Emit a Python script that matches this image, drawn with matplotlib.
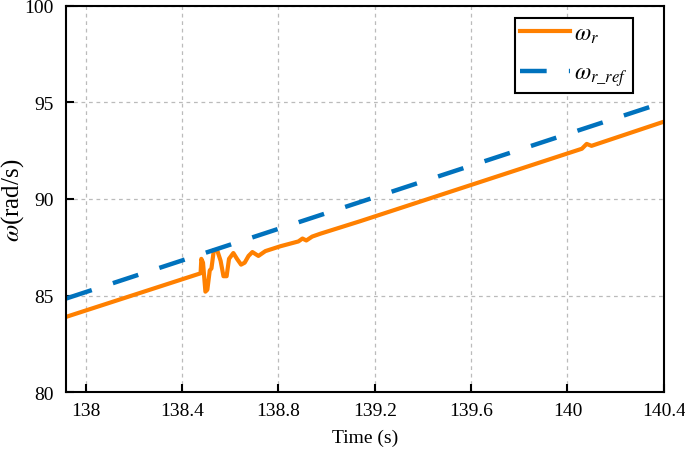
import numpy as np
import matplotlib
matplotlib.use("Agg")
import matplotlib.pyplot as plt

# измеренная скорость (по картинке)
t_meas = [137.92, 138.477, 138.480, 138.487, 138.497, 138.505, 138.515, 138.522,
          138.532, 138.547, 138.56, 138.572, 138.585, 138.595, 138.613, 138.628,
          138.645, 138.66, 138.676, 138.692, 138.717, 138.746, 138.808, 138.883,
          138.90, 138.916, 138.94, 138.974, 139.14, 140.06, 140.08, 140.10, 140.4]
w_meas = [83.9, 86.15, 86.9, 86.7, 85.2, 85.3, 86.3, 86.4,
          87.35, 87.3, 86.8, 86.0, 86.0, 86.9, 87.2, 86.9,
          86.6, 86.7, 87.05, 87.25, 87.05, 87.3, 87.55, 87.8,
          87.95, 87.85, 88.05, 88.2, 88.85, 92.6, 92.85, 92.75, 94.0]

# задание
t_ref = [137.92, 140.4]
w_ref = [84.85, 95.0]

plt.rcParams["font.family"] = ["Liberation Serif", "DejaVu Serif"]
plt.rcParams["mathtext.fontset"] = "stix"

fig, ax = plt.subplots(figsize=(6.85, 4.56), dpi=100)
fig.subplots_adjust(left=0.097, right=0.969, top=0.985, bottom=0.138)

ax.plot(t_meas, w_meas, color="#FF8000", lw=3, label=r"$\omega_r$")
ax.plot(t_ref, w_ref, color="#0072BD", lw=3.2, ls=(0, (6, 5)),
        label=r"$\omega_{r\_ref}$")

ax.set_xlim(137.92, 140.4)
ax.set_ylim(80, 100)
ax.set_xticks([138, 138.4, 138.8, 139.2, 139.6, 140, 140.4])
ax.set_xticklabels(["138", "138.4", "138.8", "139.2", "139.6", "140", "140.4"])
ax.set_yticks([80, 85, 90, 95, 100])
ax.tick_params(direction="in", length=6, width=1.5, labelsize=14, pad=7)
ax.tick_params(axis="y", pad=9)
ax.grid(True, ls=(0, (3, 3)), color="#BBBBBB", lw=0.9)
for s in ax.spines.values():
    s.set_linewidth(1.5)

ax.set_xlabel("Time (s)", fontsize=14, labelpad=7)
ax.set_ylabel(r"$\omega$(rad/s)", fontsize=18)
ax.yaxis.set_label_coords(-0.068, 0.5)

leg = ax.legend(loc="upper right", bbox_to_anchor=(0.948, 0.968), fontsize=17,
                fancybox=False, edgecolor="black", framealpha=1,
                handlelength=2.1, handletextpad=0.2, labelspacing=0.75,
                borderpad=0.2, borderaxespad=0)
leg.get_frame().set_linewidth(1.5)

plt.savefig("out.png", dpi=100)
